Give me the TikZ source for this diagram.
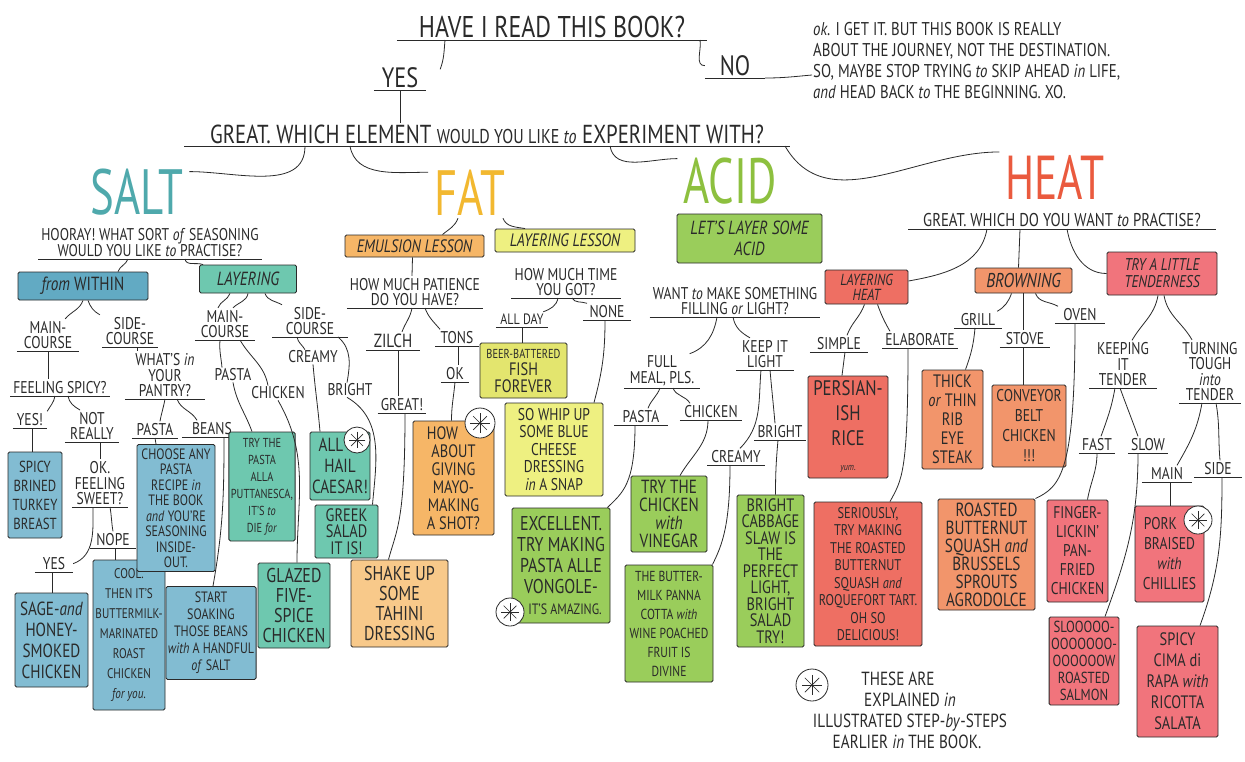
\documentclass[tikz,border=0pt]{standalone}
\usepackage{fontspec}
\setmainfont{PT Sans}[FakeStretch=0.8]
\newfontfamily\titlefont{PT Sans}[FakeStretch=0.7]
\newcommand\fsz[2]{\fontsize{#1}{#2}\selectfont}
\newcommand\cw[1]{\textit{#1}}
\definecolor{ink}{HTML}{2A2A2A}
\definecolor{saltblue}{HTML}{82BCD2}
\definecolor{saltblued}{HTML}{62AAC3}
\definecolor{saltteal}{HTML}{6EC8AF}
\definecolor{saltT}{HTML}{4FA9AC}
\definecolor{fatorange}{HTML}{F6B667}
\definecolor{fatorangel}{HTML}{F8C98A}
\definecolor{fatyellow}{HTML}{EEF081}
\definecolor{fatfish}{HTML}{E3E56E}
\definecolor{fatT}{HTML}{F2B830}
\definecolor{acidgreen}{HTML}{9ACD5B}
\definecolor{acidT}{HTML}{8DC03F}
\definecolor{heatred}{HTML}{EE6F63}
\definecolor{heatorange}{HTML}{F2956B}
\definecolor{heatpink}{HTML}{F1747C}
\definecolor{heatT}{HTML}{EA5A3E}
\begin{document}
\begin{tikzpicture}[x=1pt,y=-1pt,
  lbl/.style={inner sep=1pt, align=center, font=\fsz{17}{15.5}, text=ink},
  uline/.style={draw=ink, line width=0.8pt},
  ul/.style={lbl, anchor=south, inner xsep=3pt, inner ysep=2pt,
    append after command={(\tikzlastnode.south west) edge[uline] (\tikzlastnode.south east)}},
  bx/.style={draw=ink, line width=0.9pt, fill=#1, align=center, inner sep=2pt, rounded corners=1.5pt, text=ink},
  conn/.style={draw=ink, line width=0.8pt},
  ast/.style={circle, draw=ink, line width=0.8pt, fill=white, minimum size=#1, inner sep=0pt,
    path picture={\foreach \a in {0,45,90,135}{\draw[ink, line width=0.7pt] (path picture bounding box.center) ++(\a:0.32*#1) -- ++(\a+180:0.64*#1);}}},
  cattitle/.style={font=\titlefont\fsz{64}{64}, text=#1, inner sep=0pt, anchor=base}
]
\fill[white] (0,0) rectangle (1245,761);
\useasboundingbox (0,0) rectangle (1245,761);

% ---------- top ----------
\node[ul, minimum width=310, font=\fsz{30}{30}] (q1) at (552,40) {HAVE I READ THIS BOOK?};
\node[ul, minimum width=52, font=\fsz{28}{28}] (yes) at (400,90) {YES};
\node[ul, minimum width=60, font=\fsz{28}{28}] (no) at (735,78) {NO};
\node[lbl, anchor=west, align=left, font=\fsz{18.5}{21}] (oktext) at (812,61) {\cw{ok}. I GET IT. BUT THIS BOOK IS REALLY\\ABOUT THE JOURNEY, NOT THE DESTINATION.\\SO, MAYBE STOP TRYING \cw{to} SKIP AHEAD \cw{in} LIFE,\\\cw{and} HEAD BACK \cw{to} THE BEGINNING. XO.};
\node[ul, minimum width=605, font=\fsz{26}{26}] (q2) at (487,146) {GREAT. WHICH ELEMENT {\fsz{20}{26}WOULD YOU LIKE \cw{to}} EXPERIMENT WITH?};

\node[cattitle=saltT] (salt) at (137,214) {SALT};
\node[cattitle=fatT] (fat) at (470,215) {FAT};
\node[cattitle=acidT] (acid) at (730,203) {ACID};
\node[cattitle=heatT, font=\titlefont\fsz{62}{62}] (heat) at (1055,199) {HEAT};

% ---------- SALT ----------
\node[ul, font=\fsz{17}{16}] (sq) at (150,259) {HOORAY! WHAT SORT \cw{of} SEASONING\\WOULD YOU LIKE \cw{to} PRACTISE?};
\node[bx=saltblued, minimum width=130, minimum height=28, font=\fsz{19}{19}] (fw) at (83,286) {\cw{from} WITHIN};
\node[bx=saltteal, minimum width=97, minimum height=28, font=\fsz{19}{19}\itshape] (lay) at (248,279) {LAYERING};

\node[ul, minimum width=62] (mc1) at (48,351) {MAIN-\\COURSE};
\node[ul, minimum width=56] (sc1) at (130,347) {SIDE-\\COURSE};
\node[ul, minimum width=95] (fs) at (60,396) {FEELING SPICY?};
\node[ul, minimum width=80] (pantry) at (165,399) {WHAT'S \cw{in}\\YOUR\\PANTRY?};
\node[ul, minimum width=34] (yes1) at (30,428) {YES!};
\node[ul, minimum width=54] (notreally) at (92,442) {NOT\\REALLY};
\node[ul, minimum width=50] (sweet) at (100,507) {OK.\\FEELING\\SWEET?};
\node[ul, minimum width=38] (yes2) at (54,572) {YES};
\node[ul, minimum width=45] (nope) at (113,548) {NOPE};
\node[ul, minimum width=46] (pasta1) at (155,438) {PASTA};
\node[ul, minimum width=60] (beans) at (212,437) {BEANS};

\node[bx=saltblue, minimum width=54, minimum height=86, font=\fsz{16}{19}] (turkey) at (35,495) {SPICY\\BRINED\\TURKEY\\BREAST};
\node[bx=saltblue, minimum width=73, minimum height=94, font=\fsz{19}{21}] (sage) at (51.5,640) {SAGE-\cw{and}\\HONEY-\\SMOKED\\CHICKEN};
\node[bx=saltblue, minimum width=72, minimum height=150, font=\fsz{14}{20}] (cool) at (129,635) {COOL.\\THEN IT'S\\BUTTERMILK-\\MARINATED\\ROAST\\CHICKEN\\\cw{for you.}};
\node[bx=saltblue, minimum width=78, minimum height=127, font=\fsz{15}{15.5}] (choose) at (176,508) {CHOOSE ANY\\PASTA\\RECIPE \cw{in}\\THE BOOK\\\cw{and} YOU'RE\\SEASONING\\INSIDE-\\OUT.};
\node[bx=saltblue, minimum width=84, minimum height=93, font=\fsz{15}{17}] (soak) at (211,633) {START\\SOAKING\\THOSE BEANS\\\cw{with} A HANDFUL\\\cw{of} SALT};

\node[ul, minimum width=60] (mc2) at (225,340) {MAIN-\\COURSE};
\node[ul, minimum width=75] (sc2) at (310,337) {SIDE-\\COURSE};
\node[lbl] (pasta2) at (233,375) {PASTA};
\node[lbl] (chicken2) at (278,393) {CHICKEN};
\node[lbl] (creamy2) at (313,357) {CREAMY};
\node[lbl] (bright2) at (350,390) {BRIGHT};
\node[bx=saltteal, minimum width=64, minimum height=109, font=\fsz{13}{17}] (puttanesca) at (262,486.5) {TRY THE\\PASTA\\ALLA\\PUTTANESCA,\\IT'S \cw{to}\\DIE \cw{for}};
\node[bx=saltteal, minimum width=72, minimum height=85, font=\fsz{20}{20}] (glazed) at (294,605.5) {GLAZED\\FIVE-\\SPICE\\CHICKEN};
\node[bx=saltteal, minimum width=60, minimum height=68, font=\fsz{19}{21}] (caesar) at (340,466) {ALL\hspace*{18pt}\\HAIL\\CAESAR!};
\node[bx=saltteal, minimum width=63, minimum height=53, font=\fsz{18}{16.5}] (greek) at (346.5,531.5) {GREEK\\SALAD\\IT IS!};

% ---------- FAT ----------
\node[bx=fatorange, minimum width=139, minimum height=22, font=\fsz{18}{18}\itshape] (emul) at (414.5,246) {EMULSION LESSON};
\node[bx=fatyellow, minimum width=140, minimum height=23, font=\fsz{18}{18}\itshape] (llesson) at (565,240.5) {LAYERING LESSON};
\node[ul, minimum width=135] (pat) at (415,308) {HOW MUCH PATIENCE\\DO YOU HAVE?};
\node[ul, minimum width=53, font=\fsz{19}{16}] (zilch) at (393,350) {ZILCH};
\node[ul, minimum width=43] (tons) at (457,346) {TONS};
\node[ul, minimum width=45] (great3) at (402,413) {GREAT!};
\node[ul, minimum width=28] (ok3) at (455,382) {OK};
\node[bx=fatorange, minimum width=81, minimum height=114, font=\fsz{18}{18}] (mayo) at (453.5,478) {HOW\hspace*{22pt}\\ABOUT\\GIVING\\MAYO-\\MAKING\\A SHOT?};
\node[bx=fatorangel, minimum width=97, minimum height=87, font=\fsz{20}{20}] (tahini) at (399.5,603.5) {SHAKE UP\\SOME\\TAHINI\\DRESSING};
\node[ul, minimum width=88] (time) at (566,298) {HOW MUCH TIME\\YOU GOT?};
\node[ul, minimum width=52, font=\fsz{15}{15}] (allday) at (522,327) {ALL DAY};
\node[ul, minimum width=47] (none) at (607,320) {NONE};
\node[bx=fatfish, minimum width=87, minimum height=55, font=\fsz{18}{17}] (fish) at (523.5,370.5) {{\fsz{13}{16}BEER-BATTERED}\\FISH\\FOREVER};
\node[bx=fatyellow, minimum width=98, minimum height=93, font=\fsz{17}{17.5}] (blue) at (554,449.5) {SO WHIP UP\\SOME BLUE\\CHEESE\\DRESSING\\\cw{in} A SNAP};

% ---------- ACID ----------
\node[bx=acidgreen, minimum width=145, minimum height=49, font=\fsz{19}{21}\itshape] (acidbox) at (749.5,238.5) {LET'S LAYER SOME\\ACID};
\node[ul, minimum width=130] (fl) at (735,317) {WANT \cw{to} MAKE SOMETHING\\FILLING \cw{or} LIGHT?};
\node[ul, minimum width=75] (full) at (662,388) {FULL\\MEAL, PLS.};
\node[ul, minimum width=57] (keep) at (765,370) {KEEP IT\\LIGHT};
\node[ul, minimum width=53] (pasta4) at (641,425) {PASTA};
\node[ul, minimum width=62] (chicken4) at (711,420) {CHICKEN};
\node[ul, minimum width=57] (creamy4) at (736,465) {CREAMY};
\node[ul, minimum width=45] (bright4) at (780,440) {BRIGHT};
\node[bx=acidgreen, minimum width=98, minimum height=115, font=\fsz{20}{21}] (vongole) at (561,565.5) {EXCELLENT.\\TRY MAKING\\PASTA ALLE\\VONGOLE-\\\hspace*{8pt}{\fsz{15}{21}IT'S AMAZING.}};
\node[bx=acidgreen, minimum width=76, minimum height=76, font=\fsz{19}{18}] (vinegar) at (669,514) {TRY THE\\CHICKEN\\\cw{with}\\VINEGAR};
\node[bx=acidgreen, minimum width=88, minimum height=117, font=\fsz{14.5}{19}] (panna) at (669,623.5) {THE BUTTER-\\MILK PANNA\\COTTA \cw{with}\\WINE POACHED\\FRUIT IS\\DIVINE};
\node[bx=acidgreen, minimum width=67, minimum height=152, font=\fsz{18}{16.5}] (slaw) at (770.5,571) {BRIGHT\\CABBAGE\\SLAW IS\\THE\\PERFECT\\LIGHT,\\BRIGHT\\SALAD\\TRY!};

% ---------- HEAT ----------
\node[ul, minimum width=307, font=\fsz{18.5}{17}] (hq) at (1062,229) {GREAT. WHICH DO YOU WANT \cw{to} PRACTISE?};
\node[bx=heatred, minimum width=83, minimum height=34, font=\fsz{16}{15}\itshape] (lh) at (866.5,287) {LAYERING\\HEAT};
\node[bx=heatorange, minimum width=97, minimum height=25, font=\fsz{20}{20}\itshape] (brown) at (1023.5,280.5) {BROWNING};
\node[bx=heatpink, minimum width=110, minimum height=43, font=\fsz{17}{17}\itshape] (tender) at (1162,273.5) {TRY A LITTLE\\TENDERNESS};
\node[ul, minimum width=58] (simple) at (839,352) {SIMPLE};
\node[ul, minimum width=75] (elab) at (920,348) {ELABORATE};
\node[bx=heatred, minimum width=80, minimum height=102, font=\fsz{21}{25}] (persian) at (848,427) {PERSIAN-\\ISH\\RICE\\{\fsz{10}{12}\cw{yum.}}};
\node[bx=heatred, minimum width=108, minimum height=144, font=\fsz{15.5}{17.5}] (seriously) at (868,574) {SERIOUSLY,\\TRY MAKING\\THE ROASTED\\BUTTERNUT\\SQUASH \cw{and}\\ROQUEFORT TART.\\OH SO\\DELICIOUS!};
\node[ul, minimum width=47] (grill) at (978,328) {GRILL};
\node[ul, minimum width=50] (stove) at (1025,347) {STOVE};
\node[ul, minimum width=50] (oven) at (1080,323) {OVEN};
\node[bx=heatorange, minimum width=61, minimum height=99, font=\fsz{18}{19}] (steak) at (952.5,419.5) {THICK\\\cw{or} THIN\\RIB\\EYE\\STEAK};
\node[bx=heatorange, minimum width=74, minimum height=82, font=\fsz{17}{20}] (conveyor) at (1029,426) {CONVEYOR\\BELT\\CHICKEN\\!!!};
\node[bx=heatorange, minimum width=97, minimum height=111, font=\fsz{19}{18}] (agro) at (986.5,554.5) {ROASTED\\BUTTERNUT\\SQUASH \cw{and}\\BRUSSELS\\SPROUTS\\AGRODOLCE};
\node[ul, minimum width=67] (keeping) at (1123,388) {KEEPING\\IT\\TENDER};
\node[ul, minimum width=57] (turning) at (1210,403) {TURNING\\TOUGH\\\cw{into}\\TENDER};
\node[ul, minimum width=35] (fast) at (1097,453) {FAST};
\node[ul, minimum width=40] (slow) at (1148,453) {SLOW};
\node[ul, minimum width=50] (main5) at (1167,482) {MAIN};
\node[ul, minimum width=47] (side5) at (1218,477) {SIDE};
\node[bx=heatpink, minimum width=61, minimum height=102, font=\fsz{17}{19}] (finger) at (1077.5,551) {FINGER-\\LICKIN'\\PAN-\\FRIED\\CHICKEN};
\node[bx=heatpink, minimum width=68, minimum height=88, font=\fsz{16}{17}] (salmon) at (1084,661) {SLOOOOO-\\OOOOOOO-\\OOOOOOW\\ROASTED\\SALMON};
\node[bx=heatpink, minimum width=69, minimum height=96, font=\fsz{17}{20}] (pork) at (1169.5,554) {PORK\hspace*{18pt}\\BRAISED\\\cw{with}\\CHILLIES};
\node[bx=heatpink, minimum width=81, minimum height=111, font=\fsz{18}{21}] (cima) at (1177.5,681.5) {SPICY\\CIMA di\\RAPA \cw{with}\\RICOTTA\\SALATA};

% legend
\node[lbl, font=\fsz{19}{21}] (legend) at (910,710) {THESE ARE\hspace*{24pt}\\EXPLAINED \cw{in}\hspace*{18pt}\\ILLUSTRATED STEP-\cw{by}-STEPS\\EARLIER \cw{in} THE BOOK.\hspace*{6pt}};

% ---------- connectors ----------
\draw[conn] ([xshift=-107pt]q1.south) to[out=-95,in=70] ([xshift=14pt,yshift=-4pt]yes.north east);
\draw[conn] ([xshift=148pt]q1.south) to[out=-80,in=180] (no.west);
\draw[conn] (no.south east) to[out=0,in=185] ([yshift=-14pt]oktext.west);
\draw[conn] (yes.south) -- (yes.south |- q2.north);
\draw[conn] ([xshift=-182pt]q2.south) to[out=-90,in=0] ([xshift=6pt,yshift=20pt]salt.east);
\draw[conn] ([xshift=-137pt]q2.south) to[out=-80,in=180] ([xshift=-6pt,yshift=20pt]fat.west);
\draw[conn] ([xshift=123pt]q2.south) to[out=-80,in=180] ([xshift=-6pt,yshift=22pt]acid.west);
\draw[conn] ([xshift=298pt]q2.south) to[out=-60,in=180] ([xshift=-6pt,yshift=25pt]heat.west);

\draw[conn] ([xshift=-22pt]sq.south) to[out=-110,in=70] ([xshift=35pt]fw.north);
\draw[conn] ([xshift=35pt]sq.south) to[out=-80,in=160] ([xshift=4pt]lay.north west);
\draw[conn] (fw.south) to[out=-110,in=50] ([xshift=-14pt]mc1.north east);
\draw[conn] ([xshift=5pt]fw.south) to[out=-70,in=150] ([xshift=-2pt]sc1.north west);
\draw[conn] (mc1.south) -- ([xshift=-12pt]fs.north);
\draw[conn] ([xshift=7pt]sc1.south) -- ([xshift=-28pt]pantry.north);
\draw[conn] ([xshift=-5pt]fs.south) to[out=-100,in=60] (yes1.north east);
\draw[conn] ([xshift=8pt]fs.south) to[out=-80,in=150] ([xshift=-12pt]notreally.north);
\draw[conn] ([xshift=2pt]yes1.south) -- ([xshift=-3pt]turkey.north);
\draw[conn] ([xshift=8pt]notreally.south) -- (sweet.north);
\draw[conn] ([xshift=-7pt]sweet.south) to[out=-90,in=20] (yes2.east);
\draw[conn] ([xshift=10pt]sweet.south) to[out=-80,in=100] (nope.north);
\draw[conn] ([xshift=-2pt]yes2.south) -- ([xshift=0.5pt]sage.north);
\draw[conn] ([xshift=2pt]nope.south) -- ([xshift=-14pt]cool.north);
\draw[conn] (pantry.south) to[out=-100,in=80] ([xshift=5pt]pasta1.north);
\draw[conn] ([xshift=12pt]pantry.south) to[out=-70,in=120] ([xshift=-15pt]beans.north);
\draw[conn] (pasta1.south) -- ([xshift=-20pt]choose.north);
\draw[conn] ([xshift=12pt]beans.south) to[out=-90,in=80] ([xshift=2pt]soak.north);

\draw[conn] ([xshift=-18pt]lay.south) to[out=-110,in=70] ([xshift=-7pt]mc2.north);
\draw[conn] (lay.south) to[out=-100,in=45] ([xshift=8pt]mc2.north);
\draw[conn] ([xshift=17pt]lay.south) to[out=-70,in=150] ([xshift=-28pt]sc2.north);
\draw[conn] ([xshift=-5pt]mc2.south) to[out=-95,in=95] ([xshift=-11pt]pasta2.north);
\draw[conn] ([xshift=15pt]mc2.south) to[out=-60,in=100] ([xshift=-10pt]chicken2.north);
\draw[conn] (pasta2.south) to[out=-80,in=110] ([xshift=-10pt]puttanesca.north);
\draw[conn] (chicken2.south) to[out=-60,in=90] ([xshift=3pt]glazed.north);
\draw[conn] ([xshift=-13pt]sc2.south) to[out=-80,in=120] ([xshift=-8pt]creamy2.north);
\draw[conn] ([xshift=28pt]sc2.south) to[out=-40,in=80] ([xshift=-3pt]bright2.north);
\draw[conn] (creamy2.south) to[out=-85,in=95] ([xshift=-20pt]caesar.north);
\draw[conn] ([xshift=-3pt]bright2.south) to[out=-30,in=85] ([xshift=26pt]greek.north);

\draw[conn] ([xshift=-12pt,yshift=-3pt]fat.south) to[out=-110,in=40] ([xshift=28pt]emul.north);
\draw[conn] ([xshift=33pt,yshift=-3pt]fat.south) to[out=-70,in=170] ([xshift=-40pt]llesson.north);
\draw[conn] ([xshift=-2pt]emul.south) -- ([xshift=-3pt]pat.north);
\draw[conn] ([xshift=-3pt]pat.south) to[out=-100,in=70] ([xshift=9pt]zilch.north);
\draw[conn] ([xshift=10pt]pat.south) to[out=-70,in=130] ([xshift=-17pt]tons.north);
\draw[conn] ([xshift=5pt]zilch.south) -- ([xshift=-4pt]great3.north);
\draw[conn] ([xshift=1pt]tons.south) -- ([xshift=3pt]ok3.north);
\draw[conn] ([xshift=3pt]great3.south) .. controls +(0,110) and +(8,-30) .. ([xshift=-11pt]tahini.north);
\draw[conn] (ok3.south) to[out=-95,in=90] ([xshift=-2pt]mayo.north);
\draw[conn] ([xshift=-8pt]time.south) to[out=-100,in=20] ([xshift=-5pt]allday.north east);
\draw[conn] ([xshift=6pt]time.south) to[out=-60,in=160] ([xshift=-20pt]none.north);
\draw[conn] (allday.south) -- ([xshift=-1.5pt]fish.north);
\draw[conn] ([xshift=-2pt]none.south) to[out=-90,in=75] ([xshift=40pt]blue.north);

\draw[conn] ([xshift=-18pt]fl.south) to[out=-100,in=20] ([xshift=-10pt]full.north east);
\draw[conn] ([xshift=-2pt]fl.south) to[out=-80,in=150] ([xshift=-15pt]keep.north);
\draw[conn] ([xshift=-2pt]full.south) to[out=-110,in=70] ([xshift=7pt]pasta4.north);
\draw[conn] ([xshift=11pt]full.south) to[out=-70,in=120] ([xshift=-21pt]chicken4.north);
\draw[conn] ([xshift=-4pt]keep.south) to[out=-95,in=45] ([xshift=4pt]creamy4.north);
\draw[conn] ([xshift=5pt]keep.south) to[out=-85,in=95] ([xshift=-5pt]bright4.north);
\draw[conn] ([xshift=-6pt]pasta4.south) .. controls +(0,60) and +(15,-15) .. ([xshift=-3pt]vongole.north east);
\draw[conn] ([xshift=-3pt]chicken4.south) to[out=-90,in=60] ([xshift=11pt]vinegar.north);
\draw[conn] ([xshift=-6pt]creamy4.south) .. controls +(0,60) and +(10,-20) .. ([xshift=-1pt]panna.north east);
\draw[conn] ([xshift=-2pt]bright4.south) to[out=-95,in=90] ([xshift=5pt]slaw.north);

\draw[conn] ([xshift=-75pt]hq.south) to[out=-100,in=10] ([yshift=6pt]lh.east);
\draw[conn] ([xshift=-42pt]hq.south) -- ([xshift=-5pt]brown.north);
\draw[conn] ([xshift=5pt]hq.south) to[out=-80,in=180] (tender.west);
\draw[conn] ([xshift=-2pt]lh.south) to[out=-110,in=70] ([xshift=8pt]simple.north);
\draw[conn] ([xshift=11pt]lh.south) to[out=-70,in=120] ([xshift=-30pt]elab.north);
\draw[conn] ([xshift=6pt]simple.south) -- ([xshift=-6pt]persian.north);
\draw[conn] ([xshift=-12pt]elab.south) .. controls +(0,125) and +(12,-22) .. ([xshift=22pt]seriously.north);
\draw[conn] ([xshift=-12pt]brown.south) to[out=-110,in=30] ([xshift=-4.5pt]grill.north east);
\draw[conn] (brown.south) -- ([xshift=-1.5pt]stove.north);
\draw[conn] ([xshift=-1.5pt]stove.south) -- ([xshift=-5.5pt]conveyor.north);
\draw[conn] ([xshift=12pt]brown.south) to[out=-70,in=150] ([xshift=-22pt]oven.north);
\draw[conn] ([xshift=-3pt]grill.south) to[out=-95,in=70] ([xshift=13pt]steak.north);
\draw[conn] ([xshift=-5pt]oven.south) .. controls +(0,150) and +(25,-12) .. (agro.north east);
\draw[conn] ([xshift=-4pt]tender.south) to[out=-100,in=60] ([xshift=9pt]keeping.north);
\draw[conn] ([xshift=2pt]tender.south) to[out=-80,in=120] ([xshift=-18pt]turning.north);
\draw[conn] ([xshift=-8pt]keeping.south) to[out=-100,in=70] ([xshift=4pt]fast.north);
\draw[conn] ([xshift=-3pt]keeping.south) to[out=-70,in=110] ([xshift=-10pt]slow.north);
\draw[conn] (fast.south) to[out=-90,in=80] ([xshift=10pt]finger.north);
\draw[conn] ([xshift=-10pt]slow.south) to[out=-90,in=70] ([xshift=21pt]salmon.north);
\draw[conn] ([xshift=-8pt]turning.south) to[out=-100,in=60] ([xshift=10pt]main5.north);
\draw[conn] ([xshift=6pt]turning.south) to[out=-80,in=95] ([xshift=2pt]side5.north);
\draw[conn] ([xshift=3pt]main5.south) -- ([xshift=0.5pt]pork.north);
\draw[conn] ([xshift=4pt]side5.south) to[out=-90,in=70] ([xshift=22.5pt]cima.north);

% asterisks
\node[ast=26pt] (ast1) at (357,440) {};
\node[ast=30pt] (ast2) at (480,423) {};
\node[ast=28pt] (ast3) at (510,612) {};
\node[ast=28pt] (ast4) at (1198,520) {};
\node[ast=32pt] (ast5) at (812,685) {};
\end{tikzpicture}
\end{document}
